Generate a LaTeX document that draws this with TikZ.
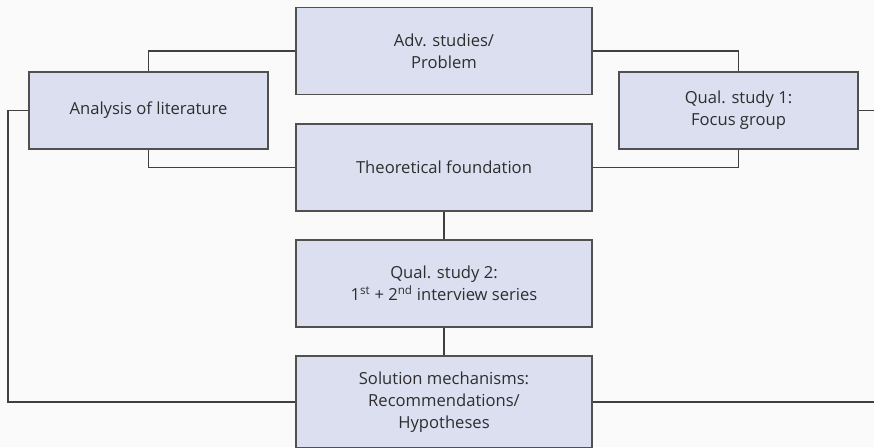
\documentclass[tikz,border=0pt]{standalone}
\usepackage{fontspec}
\setmainfont{Open Sans}
\definecolor{bg}{HTML}{FAFAFA}
\definecolor{boxfill}{HTML}{DCDFF0}
\definecolor{boxline}{HTML}{505050}
\definecolor{linecol}{HTML}{404040}
\definecolor{textcol}{HTML}{2E2E2E}
\begin{document}
\begin{tikzpicture}[x=1pt,y=-1pt,
  box/.style={draw=boxline, fill=boxfill, line width=1.3pt, align=center,
    inner sep=0pt, text=textcol, font=\fontsize{16.6}{22}\selectfont},
  wide/.style={box, minimum width=296pt, minimum height=87pt},
  side/.style={box, minimum width=239pt, minimum height=77pt},
  link/.style={draw=linecol, line width=1.4pt}]
\useasboundingbox[fill=bg] (0,0) rectangle (874,447);

% boxes
\node[wide] (adv) at (444,51) {Adv. studies/\\Problem};
\node[side] (ana) at (148.5,110.5) {Analysis of literature};
\node[wide] (theo) at (444,167.5) {Theoretical foundation};
\node[side] (qone) at (738.5,110.5) {Qual. study 1:\\Focus group};
\node[wide] (qtwo) at (444,283.5) {Qual. study 2:\\1\textsuperscript{st} + 2\textsuperscript{nd} interview series};
\node[wide, minimum height=92pt] (sol) at (444,402) {Solution mechanisms:\\Recommendations/\\Hypotheses};

% rails on both sides
\coordinate (lrail) at (8,0);
\coordinate (rrail) at (884,0);

% connectors
\draw[link] (adv.west) -| (ana.north);
\draw[link] (adv.east) -| (qone.north);
\draw[link] (theo.west) -| (ana.south);
\draw[link] (theo.east) -| (qone.south);
\draw[link] (theo.south) -- (qtwo.north);
\draw[link] (qtwo.south) -- (sol.north);
\draw[link] (ana.west) -- (ana.west -| lrail) -- (sol.west -| lrail) -- (sol.west);
\draw[link] (qone.east) -- (qone.east -| rrail) -- (sol.east -| rrail) -- (sol.east);
\end{tikzpicture}
\end{document}
